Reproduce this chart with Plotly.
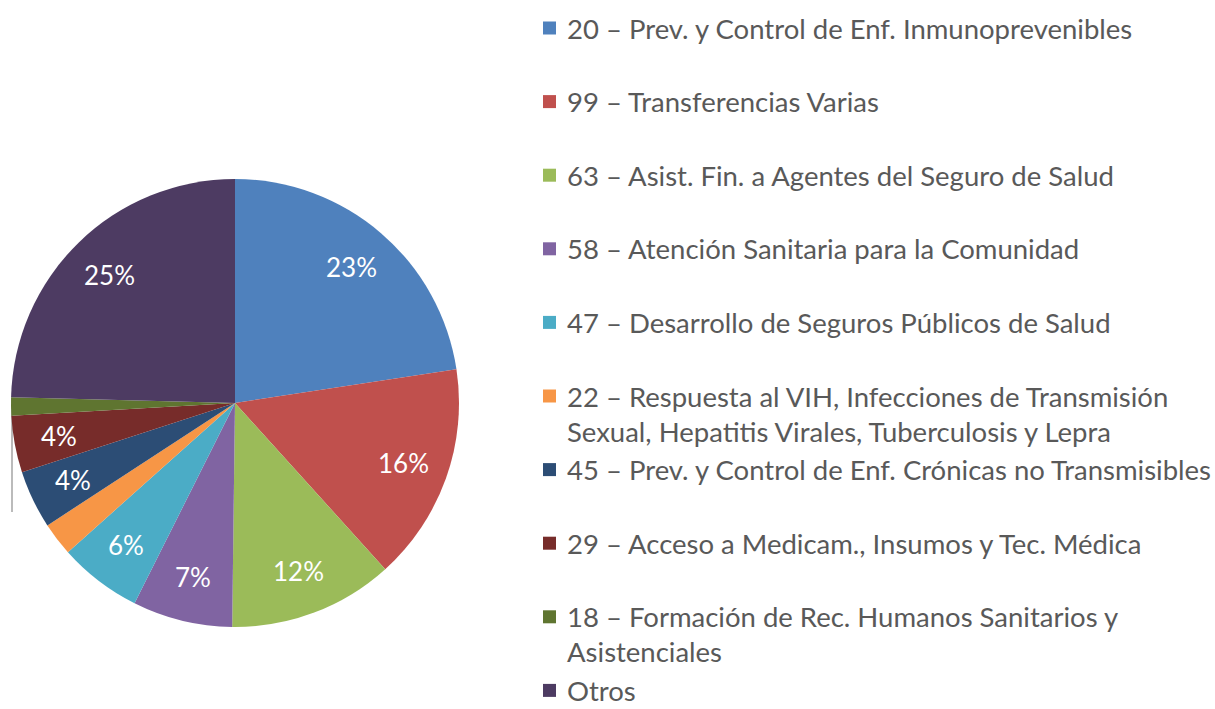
import math
import plotly.graph_objects as go

# Budget programmes (legend labels; "\n" marks the legend line wrap)
categories = [
    "20 – Prev. y Control de Enf. Inmunoprevenibles",
    "99 – Transferencias Varias",
    "63 – Asist. Fin. a Agentes del Seguro de Salud",
    "58 – Atención Sanitaria para la Comunidad",
    "47 – Desarrollo de Seguros Públicos de Salud",
    "22 – Respuesta al VIH, Infecciones de Transmisión\nSexual, Hepatitis Virales, Tuberculosis y Lepra",
    "45 – Prev. y Control de Enf. Crónicas no Transmisibles",
    "29 – Acceso a Medicam., Insumos y Tec. Médica",
    "18 – Formación de Rec. Humanos Sanitarios y\nAsistenciales",
    "Otros",
]
# Share of the total, in percent
shares = [22.6, 15.7, 11.9, 7.2, 6.0, 2.4, 4.2, 4.1, 1.3, 24.6]
colors = ["#4F81BD", "#C0504D", "#9BBB59", "#8064A2", "#4BACC6",
          "#F79646", "#2C4D75", "#772C2A", "#5F7530", "#4D3B62"]

W, H = 1215, 709
FONT = "Lato"

cx, cy, r = 235, 403, 224
fig = go.Figure(go.Pie(
    labels=[c.replace("\n", " ") for c in categories],
    values=shares,
    sort=False,
    direction="clockwise",
    rotation=0,
    marker=dict(colors=colors, line=dict(width=0)),
    textinfo="none",
    domain=dict(x=[(cx - r) / W, (cx + r) / W], y=[1 - (cy + r) / H, 1 - (cy - r) / H]),
    showlegend=False,
    hoverinfo="label+percent",
))

annotations = []

# Percentage labels at 80% of the radius on each slice's mid-angle (slices < 3% unlabeled)
total = sum(shares)
cum = 0.0
for v in shares:
    mid = (cum + v / 2) / total * 2 * math.pi
    cum += v
    if v < 3:
        continue
    px = cx + 0.8 * r * math.sin(mid)
    py = cy - 0.8 * r * math.cos(mid)
    annotations.append(dict(xref="paper", yref="paper", x=px / W, y=1 - py / H,
                            xanchor="center", yanchor="middle", showarrow=False,
                            text=f"{round(v / total * 100)}%",
                            font=dict(family=FONT, size=26, color="white")))

# Thin grey leader line on the left edge of the pie
shapes = [dict(type="line", xref="paper", yref="paper",
               x0=12 / W, x1=12 / W, y0=1 - 512 / H, y1=1 - 398 / H,
               line=dict(color="#BBBBBB", width=2), layer="below")]

# Hand-laid legend: one slot per programme, wrapped lines indented under the text
slot0, slot_step, line_step = 28, 73.6, 35
sq, text_x = 13, 566
for i, (cat, col) in enumerate(zip(categories, colors)):
    yc = slot0 + i * slot_step
    shapes.append(dict(type="rect", xref="paper", yref="paper",
                       x0=543 / W, x1=(543 + sq) / W,
                       y0=1 - (yc + sq / 2) / H, y1=1 - (yc - sq / 2) / H,
                       fillcolor=col, line=dict(width=0)))
    for j, line in enumerate(cat.split("\n")):
        annotations.append(dict(xref="paper", yref="paper",
                                x=text_x / W, y=1 - (yc + j * line_step) / H,
                                xanchor="left", yanchor="middle",
                                text=line, showarrow=False, borderpad=0,
                                font=dict(family=FONT, size=27.5, color="#595959")))

fig.update_layout(
    width=W, height=H,
    margin=dict(l=0, r=0, t=0, b=0),
    paper_bgcolor="white", plot_bgcolor="white",
    shapes=shapes, annotations=annotations,
)

fig.write_html("out.html")
